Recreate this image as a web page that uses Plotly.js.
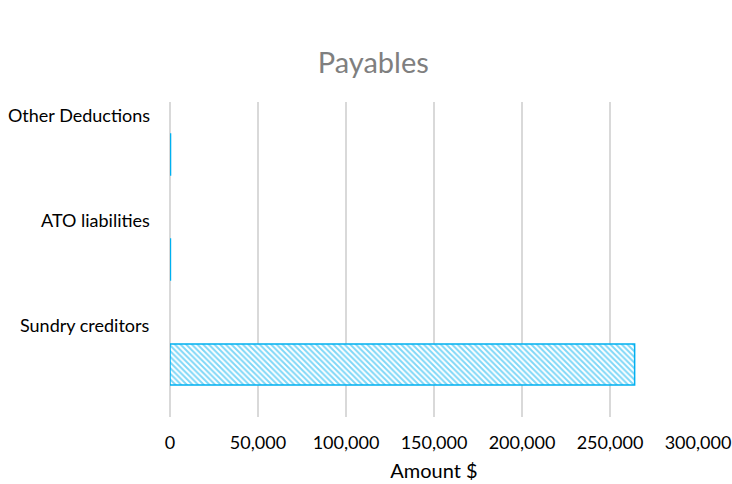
<!DOCTYPE html>
<html>
<head>
<meta charset="utf-8">
<script src="https://cdn.plot.ly/plotly-3.0.1.min.js"></script>
<style>html,body{margin:0;padding:0;background:#fff;}#chart{width:732px;height:484px;}</style>
</head>
<body>
<div id="chart"></div>
<script>
const categories = ["Sundry creditors", "ATO liabilities", "Other Deductions"];
const amounts = [264000, 250, 300];
const tickValues = [0, 50000, 100000, 150000, 200000, 250000, 300000];
const tickLabels = ["0", "50,000", "100,000", "150,000", "200,000", "250,000", "300,000"];

const FONT = "Lato, 'Open Sans', sans-serif";
const BLUE = "#00B0F0";

const trace = {
  type: "bar",
  orientation: "h",
  y: categories,
  x: amounts,
  width: 0.39,
  marker: {
    color: "white",
    line: {color: BLUE, width: 1.5},
    pattern: {shape: "\\", fgcolor: BLUE, bgcolor: "white", size: 4, solidity: 0.5, fillmode: "overlay"}
  },
  hoverinfo: "none"
};

const annotations = categories.map(c => ({
  xref: "paper", yref: "y", x: -0.035, y: c, xanchor: "right", yanchor: "middle",
  yshift: 40, text: c, showarrow: false,
  font: {family: FONT, size: 18, color: "#000"}
}));

const layout = {
  width: 732, height: 484,
  margin: {l: 170, r: 34, t: 102, b: 67},
  paper_bgcolor: "white", plot_bgcolor: "white",
  title: {text: "Payables", x: 0.51, xanchor: "center", y: 0.87, yanchor: "middle",
          font: {family: FONT, size: 29, color: "#7f7f7f"}},
  xaxis: {
    range: [0, 300000], tickvals: tickValues, ticktext: tickLabels,
    showgrid: true, gridcolor: "#d9d9d9", gridwidth: 1.3,
    zeroline: true, zerolinecolor: "#d9d9d9", zerolinewidth: 1.3,
    showline: false, ticks: "", ticklabelstandoff: 13,
    tickfont: {family: FONT, size: 18, color: "#000"},
    title: {text: "Amount $", font: {family: FONT, size: 20, color: "#000"}, standoff: 11}
  },
  yaxis: {
    type: "category", categoryorder: "array", categoryarray: categories,
    showticklabels: false, showgrid: false, zeroline: false, showline: false, ticks: "",
    range: [-0.5, 2.5]
  },
  annotations: annotations,
  showlegend: false
};

Plotly.newPlot("chart", [trace], layout, {displayModeBar: false, staticPlot: true});
</script>
</body>
</html>
